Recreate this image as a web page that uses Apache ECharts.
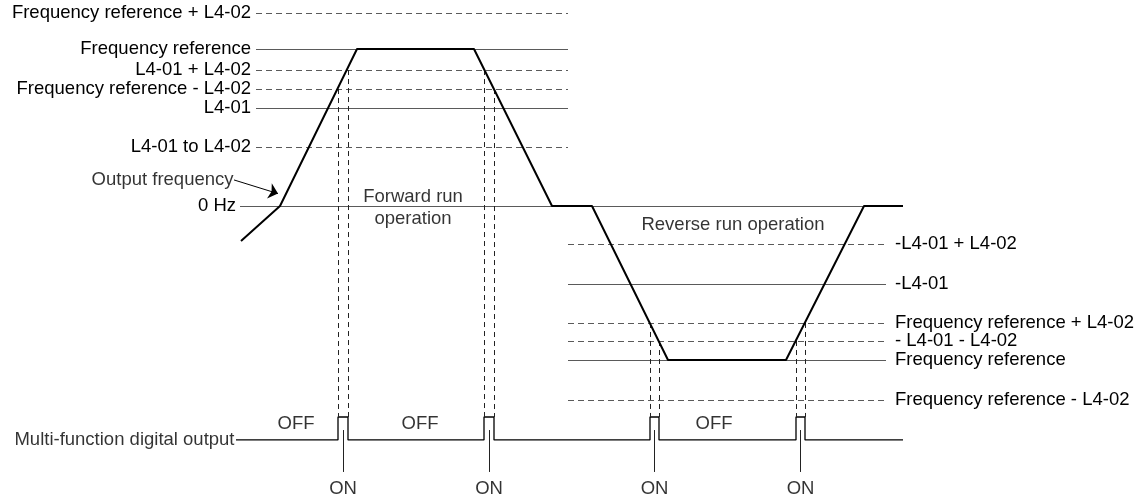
<!DOCTYPE html>
<html>
<head>
<meta charset="utf-8">
<script src="https://cdn.jsdelivr.net/npm/echarts@6/dist/echarts.min.js"></script>
<style>
html,body{margin:0;padding:0;background:#fff;}
#c{width:1141px;height:497px;}
</style>
</head>
<body>
<div id="c"></div>
<script>
// ---- data (time in arbitrary units, frequency as % of frequency reference) ----
const fwdLevelNames = ['Frequency reference + L4-02', 'Frequency reference', 'L4-01 + L4-02', 'Frequency reference - L4-02', 'L4-01', 'L4-01 to L4-02'];
const fwdLevelValues = [122.9, 100, 86.6, 74.5, 62.4, 37.6];
const fwdLevelDashed = [true, false, true, true, false, true];
const fwdLevelSpan = [256, 568];

const revLevelNames = ['-L4-01 + L4-02', '-L4-01', 'Frequency reference + L4-02', '- L4-01 - L4-02', 'Frequency reference', 'Frequency reference - L4-02'];
const revLevelValues = [-24.2, -49.7, -74.5, -86.0, -98.1, -123.6];
const revLevelDashed = [true, false, true, true, false, true];
const revLevelSpan = [568, 886];

const zeroSpan = [240, 903];

const outTime = [241, 280, 357, 474, 552, 592, 668, 786, 864, 903];
const outFreq = [-22.3, 0, 100, 100, 0, 0, -98.1, -98.1, 0, 0];

const pulseOn = [338, 484, 650, 796];
const pulseOff = [348, 494, 659, 805];
const guideLevelOn = [74.5, 86.6, -74.5, -86.0];
const guideLevelOff = [86.6, 74.5, -86.0, -74.5];
const digitalSpan = [236, 903];
const digitalLow = -149.0;
const digitalHigh = -134.4;
const onLineTop = -142.7;
const onLineBottom = -169.4;
const onTextLevel = -180.0;
const offTimes = [296, 420, 714];
const offLevel = -138.9;

const notes = [
  {text: 'Forward run\noperation', t: 413, f: -1.2},
  {text: 'Reverse run operation', t: 733, f: -12.1}
];
const arrowFrom = [234, 16.6];
const arrowTo = [278, 7.9];

// ---- build option ----
const FONT = 'Liberation Sans, Arial, sans-serif';
const FS = 18.5;
const GREY = '#5a5a5a';

function levelLines(names, values, dashed, span, side) {
  return names.map((n, i) => [
    {
      coord: [span[0], values[i]],
      lineStyle: {color: GREY, width: 1, type: dashed[i] ? [6, 4] : 'solid'},
      label: {
        show: true, formatter: n, position: side === 'left' ? 'start' : 'end',
        distance: side === 'left' ? 5 : 9, color: '#000', fontSize: FS, fontFamily: FONT
      }
    },
    {coord: [span[1], values[i]]}
  ]);
}

const levelData = levelLines(fwdLevelNames, fwdLevelValues, fwdLevelDashed, fwdLevelSpan, 'left')
  .concat(levelLines(revLevelNames, revLevelValues, revLevelDashed, revLevelSpan, 'right'))
  .concat([[
    {coord: [zeroSpan[0], 0], lineStyle: {color: GREY, width: 1.2, type: 'solid'},
     label: {show: true, formatter: '0 Hz', position: 'start', distance: 4, color: '#000', fontSize: FS, fontFamily: FONT}},
    {coord: [zeroSpan[1], 0]}
  ]]);

// digital output step data
const digital = [[digitalSpan[0], digitalLow]];
pulseOn.forEach((t, i) => {
  digital.push([t, digitalLow], [t, digitalHigh], [pulseOff[i], digitalHigh], [pulseOff[i], digitalLow]);
});
digital.push([digitalSpan[1], digitalLow]);

const guideData = [];
pulseOn.forEach((t, i) => {
  guideData.push([{coord: [t, guideLevelOn[i]]}, {coord: [t, digitalHigh]}]);
  guideData.push([{coord: [pulseOff[i], guideLevelOff[i]]}, {coord: [pulseOff[i], digitalHigh]}]);
});

const onLines = pulseOn.map((t, i) => {
  const c = (t + pulseOff[i]) / 2;
  return [{coord: [c, onLineTop]}, {coord: [c, onLineBottom]}];
});

const textItems = [];
pulseOn.forEach((t, i) => {
  textItems.push({value: [(t + pulseOff[i]) / 2, onTextLevel], label: {formatter: 'ON', position: 'inside'}});
});
offTimes.forEach(t => textItems.push({value: [t, offLevel], label: {formatter: 'OFF', position: 'inside'}}));
notes.forEach(n => textItems.push({value: [n.t, n.f], label: {formatter: n.text, position: 'inside', lineHeight: 22}}));
textItems.push({value: [digitalSpan[0], digitalLow], label: {formatter: 'Multi-function digital output', position: 'left', distance: 1}});
textItems.push({value: arrowFrom, label: {formatter: 'Output frequency', position: 'left', distance: 0}});

const option = {
  animation: false,
  backgroundColor: '#fff',
  grid: {left: 0, right: 0, top: 0, bottom: 0},
  xAxis: {type: 'value', min: 0, max: 1141, show: false},
  yAxis: {type: 'value', min: -185.35, max: 131.21, show: false},
  series: [
    {
      type: 'line', data: [], silent: true, z: 1,
      markLine: {silent: true, symbol: ['none', 'none'], animation: false, data: levelData}
    },
    {
      type: 'line', data: [], silent: true, z: 2,
      markLine: {
        silent: true, symbol: ['none', 'none'], animation: false,
        lineStyle: {color: '#222', width: 1, type: [5, 4]}, label: {show: false},
        data: guideData
      }
    },
    {
      type: 'line', data: [], silent: true, z: 2,
      markLine: {
        silent: true, symbol: ['none', 'none'], animation: false,
        lineStyle: {color: '#222', width: 1, type: 'solid'}, label: {show: false},
        data: onLines
      }
    },
    {
      type: 'line', data: [], silent: true, z: 3,
      markLine: {
        silent: true, symbol: ['none', 'arrow'], symbolSize: [12, 9], animation: false,
        lineStyle: {color: '#000', width: 1, type: 'solid'}, label: {show: false},
        data: [[{coord: arrowFrom}, {coord: arrowTo}]]
      }
    },
    {
      type: 'line', name: 'Output frequency', z: 5, silent: true,
      data: outTime.map((t, i) => [t, outFreq[i]]),
      symbol: 'none', lineStyle: {color: '#000', width: 2}
    },
    {
      type: 'line', name: 'Multi-function digital output', z: 4, silent: true,
      data: digital, symbol: 'none', lineStyle: {color: '#000', width: 1.3}
    },
    {
      type: 'scatter', z: 6, silent: true, symbolSize: 1,
      itemStyle: {color: 'rgba(0,0,0,0)'},
      label: {show: true, color: '#000', fontSize: FS, fontFamily: FONT},
      data: textItems
    }
  ]
};

const chart = echarts.init(document.getElementById('c'), null, {renderer: 'canvas'});
chart.setOption(option);
</script>
</body>
</html>
